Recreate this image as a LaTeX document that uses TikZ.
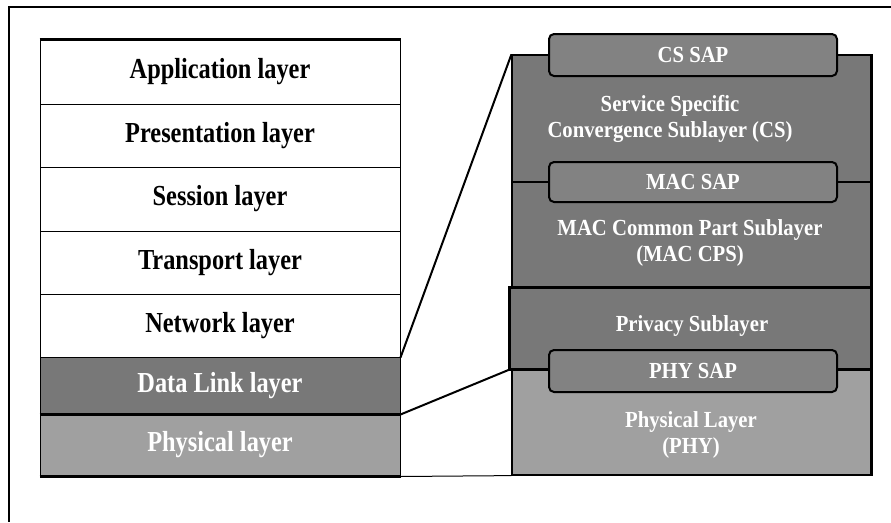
\documentclass[tikz,border=0pt]{standalone}
\usepackage{fontspec}
\newfontfamily\lfont{Liberation Serif}[FakeStretch=0.84]
\newfontfamily\rfont{Liberation Serif}[FakeStretch=0.9]
\definecolor{darkfill}{RGB}{120,120,120}
\definecolor{sapfill}{RGB}{130,130,130}
\definecolor{lightfill}{RGB}{160,160,160}
\tikzset{
  lcell/.style={draw=black, line width=1pt, minimum width=360pt, inner sep=0pt,
    font=\lfont\bfseries\fontsize{29}{32}\selectfont},
  wcell/.style={lcell, fill=white, text=black},
  dcell/.style={lcell, fill=darkfill, text=white},
  gcell/.style={lcell, fill=lightfill, text=white},
  rbody/.style={draw=black, line width=1.2pt, inner sep=0pt},
  sapbox/.style={draw=black, line width=2pt, rounded corners=5pt, fill=sapfill,
    minimum width=288pt, inner sep=0pt, text=white,
    font=\rfont\bfseries\fontsize{23}{26}\selectfont},
  rtext/.style={text=white, align=center, inner sep=0pt,
    font=\rfont\bfseries\fontsize{23}{26}\selectfont},
  link/.style={draw=black, line width=2pt},
  thinlink/.style={draw=black, line width=1pt}
}
\begin{document}
\begin{tikzpicture}[x=1pt, y=-1pt]
\useasboundingbox (0,0) rectangle (891,522);
\fill[white] (0,0) rectangle (891,522);
% outer frame
\draw[line width=2pt] (891,7) -- (9,7) -- (9,522);

% left OSI stack
\node[wcell, minimum height=64pt] (app)   at (220,72)    {Application layer};
\node[wcell, minimum height=63pt] (pres)  at (220,135.5) {Presentation layer};
\node[wcell, minimum height=64pt] (sess)  at (220,199)   {Session layer};
\node[wcell, minimum height=63pt] (trans) at (220,262.5) {Transport layer};
\node[wcell, minimum height=63pt] (net)   at (220,325.5) {Network layer};
\node[dcell, minimum height=57pt] (dl)    at (220,385.5) {Data Link layer};
\node[gcell, minimum height=62pt] (phys)  at (220,445)   {Physical layer};
\draw[line width=2.5pt] (app.north west) -- (app.north east);
\draw[line width=2.5pt] (dl.south west) -- (dl.south east);
\draw[line width=2.5pt] (phys.south west) -- (phys.south east);

% right 802.16 stack
\node[rbody, fill=darkfill, minimum width=359pt, minimum height=127pt] (cs)     at (691.5,118.5) {};
\node[rbody, fill=darkfill, minimum width=359pt, minimum height=105pt] (maccps) at (691.5,234.5) {};
\node[rbody, fill=darkfill, minimum width=361pt, minimum height=82pt]  (priv)   at (690.5,328)   {};
\node[rbody, fill=lightfill, minimum width=359pt, minimum height=106pt] (phy)   at (691.5,422)   {};
\draw[line width=2.5pt] (maccps.south west) -- (maccps.south east);
\draw[line width=2pt] (priv.north west) -- (priv.south west);
\draw[line width=2pt] (priv.south west) -- (priv.south east);
\draw[line width=2pt] (cs.north east) -- (phy.south east);

\node[sapbox, minimum height=42pt] (cssap)  at (693,55)  {CS SAP};
\node[sapbox, minimum height=40pt] (macsap) at (693,182) {MAC SAP};
\node[sapbox, minimum height=42pt] (physap) at (693,371) {PHY SAP};

\node[rtext] (cstxt)   at (670,119) {Service Specific\\Convergence Sublayer (CS)};
\node[rtext] (macstxt) at (690,243) {MAC Common Part Sublayer\\(MAC CPS)};
\node[rtext] (privtxt) at (692,326) {Privacy Sublayer};
\node[rtext] (phytxt)  at (691,435) {Physical Layer\\(PHY)};

% connectors
\draw[link] (net.south east) -- (cs.north west);
\draw[link] (dl.south east) -- (priv.south west);
\draw[thinlink] (phys.south east) -- (phy.south west);
\end{tikzpicture}
\end{document}
